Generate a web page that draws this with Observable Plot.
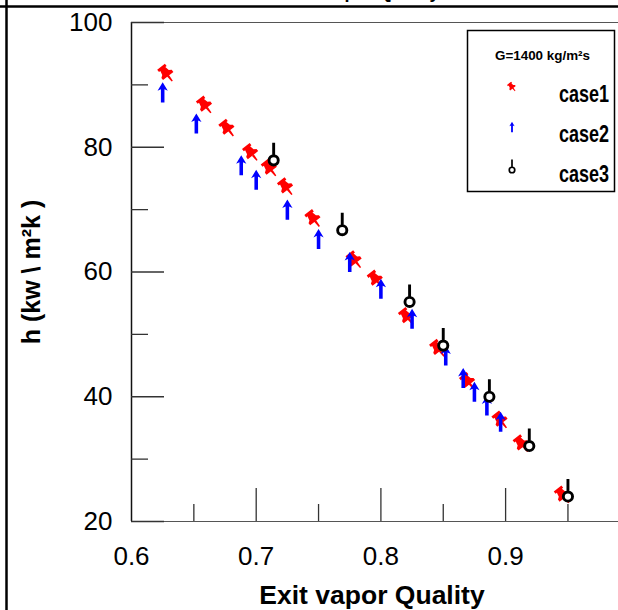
<!DOCTYPE html>
<html><head><meta charset="utf-8">
<script src="https://cdn.jsdelivr.net/npm/d3@7"></script>
<script src="https://cdn.jsdelivr.net/npm/@observablehq/plot@0.6"></script>
<style>
body{margin:0;background:#fff}
#chart{position:relative;width:618px;height:610px;overflow:hidden}
</style>
</head><body><div id="chart"></div>
<script>
// ---- data ----
const case1Quality = [0.628, 0.659, 0.677, 0.696, 0.711, 0.724, 0.746, 0.779, 0.796, 0.821, 0.846, 0.870, 0.896, 0.913, 0.946];
const case1H       = [91.8, 86.7, 83.0, 79.1, 76.6, 73.6, 68.5, 61.9, 58.8, 52.8, 47.7, 42.4, 36.2, 32.4, 24.2];
const case2Quality = [0.625, 0.652, 0.688, 0.700, 0.725, 0.750, 0.775, 0.800, 0.825, 0.852, 0.866, 0.875, 0.885, 0.896];
const case2H       = [88.8, 83.8, 77.1, 74.8, 70.0, 65.3, 61.6, 57.3, 52.5, 46.6, 43.0, 40.8, 38.6, 36.0];
const case3Quality = [0.714, 0.769, 0.823, 0.850, 0.887, 0.919, 0.950];
const case3H       = [77.9, 66.7, 55.2, 48.2, 40.0, 32.1, 24.0];
const seriesNames  = ["case1", "case2", "case3"];
const xTickLabels  = [0.6, 0.7, 0.8, 0.9];
const xMinorTicks  = [0.65, 0.75, 0.85, 0.95];
const yTickLabels  = [20, 40, 60, 80, 100];
const yMinorTicks  = [30, 50, 70, 90];
const legendTitle  = "G=1400 kg/m\u00B2s";
const xTitle = "Exit vapor Quality";
const yTitle = "h (kw \\ m\u00B2k )";

const toRows = (xs, ys) => xs.map((q, i) => ({q, h: ys[i]}));
const case1 = toRows(case1Quality, case1H);
const case2 = toRows(case2Quality, case2H);
const case3 = toRows(case3Quality, case3H);

// ---- custom marker shapes (d3 symbol types) ----
function polyPath(ctx, pts, tf) {
  pts.forEach(([x, y], i) => { const [X, Y] = tf(x, y); i ? ctx.lineTo(X, Y) : ctx.moveTo(X, Y); });
  ctx.closePath();
}
const pinSymbol = {
  draw(ctx, size) {
    const s = Math.sqrt(size / Math.PI) / 7;
    const a = -38 * Math.PI / 180, c = Math.cos(a), sn = Math.sin(a);
    const tf = (x, y) => [(x * c - y * sn) * s, (x * sn + y * c) * s];
    polyPath(ctx, [[-4,-7.2],[4,-7.2],[4,-4.8],[2.6,-4.8],[3.4,-1.2],[5.4,0.2],[5.4,2.4],[-5.4,2.4],[-5.4,0.2],[-3.4,-1.2],[-2.6,-4.8],[-4,-4.8]], tf);
    polyPath(ctx, [[-1,2.4],[1,2.4],[0.6,7.8],[-0.6,7.8]], tf);
  }
};
const arrowSymbol = {
  draw(ctx, size) {
    const s = Math.sqrt(size / Math.PI) / 7;
    const tf = (x, y) => [x * s, y * s];
    polyPath(ctx, [[0,-9],[4.6,-1.4],[1.6,-2.8],[1.6,9],[-1.6,9],[-1.6,-2.8],[-4.6,-1.4]], tf);
  }
};
const lollipopSymbol = {
  draw(ctx, size) {
    const s = Math.sqrt(size / Math.PI) / 7;
    const R = 4.6 * s;
    ctx.moveTo(R, 0);
    ctx.arc(0, 0, R, 0, 2 * Math.PI);
    ctx.closePath();
    ctx.moveTo(0, -R);
    ctx.lineTo(0, -17.5 * s);
  }
};

const W = 618, H = 610, ML = 131, MT = 22, MB = 89, MR = 0;
const pxPerUnitX = 1247; // pixels per unit of quality in the reference
const xMax = 0.6 + (W - ML - MR) / pxPerUnitX;
const frameW = W - ML - MR, frameH = H - MT - MB;
const tickColor = "#333";
const fmt1 = d3.format(".1f");

const plot = Plot.plot({
  width: W, height: H,
  marginLeft: ML, marginRight: MR, marginTop: MT, marginBottom: MB,
  style: {fontFamily: "'Liberation Sans', Arial, sans-serif", fontSize: "26px", background: "white", color: "black", overflow: "visible"},
  x: {domain: [0.6, xMax], ticks: xTickLabels, tickFormat: fmt1, label: null},
  y: {domain: [20, 100], ticks: yTickLabels, label: null},
  marks: [
    Plot.axisX(xTickLabels, {tickSize: 0, tickPadding: 25, fontSize: 26, tickFormat: fmt1, label: null}),
    Plot.axisY(yTickLabels, {tickSize: 0, tickPadding: 19, fontSize: 26, label: null}),
    Plot.ruleY([100], {stroke: "#555", strokeWidth: 1}),
    Plot.ruleY([20], {stroke: "#555", strokeWidth: 1.2}),
    Plot.ruleX([0.6], {stroke: "#111", strokeWidth: 1.5}),
    Plot.tickY(yTickLabels, {stroke: tickColor, strokeWidth: 1.3, insetRight: frameW - 33}),
    Plot.tickY(yMinorTicks, {stroke: tickColor, strokeWidth: 1.3, insetRight: frameW - 17}),
    Plot.tickX(xTickLabels.slice(1), {stroke: tickColor, strokeWidth: 1.3, insetTop: frameH - 33}),
    Plot.tickX(xMinorTicks, {stroke: tickColor, strokeWidth: 1.3, insetTop: frameH - 17}),
    Plot.dot(case1, {x: "q", y: "h", symbol: pinSymbol, r: 8.5, fill: "#ff0000", stroke: "none"}),
    Plot.dot(case2, {x: "q", y: "h", symbol: arrowSymbol, r: 7.8, fill: "#0000ff", stroke: "none"}),
    Plot.dot(case3, {x: "q", y: "h", symbol: lollipopSymbol, r: 7, fill: "white", stroke: "black", strokeWidth: 2.9}),
    Plot.text([xTitle], {frameAnchor: "bottom", textAnchor: "middle", dy: 74, dx: -3, fontSize: 26.5, fontWeight: "bold", lineAnchor: "middle"}),
    Plot.text([yTitle], {frameAnchor: "left", textAnchor: "middle", dx: -100, rotate: -90, fontSize: 25, fontWeight: "bold", lineAnchor: "middle"}),
    Plot.text([xTitle], {frameAnchor: "top", textAnchor: "middle", dx: -12, dy: -30, fontSize: 18, fontWeight: "bold", lineAnchor: "middle"})
  ]
});
document.getElementById("chart").appendChild(plot);

// ---- outer frame lines and legend ----
const svg = d3.select(plot);
svg.append("line").attr("x1", 0).attr("x2", W).attr("y1", 6.5).attr("y2", 6.5).attr("stroke", "black").attr("stroke-width", 2.5);
svg.append("line").attr("x1", 6.5).attr("x2", 6.5).attr("y1", 0).attr("y2", H).attr("stroke", "black").attr("stroke-width", 2.5);

const lg = svg.append("g").attr("font-family", "'Liberation Sans', Arial, sans-serif")
  .attr("font-weight", "bold").attr("text-anchor", "start");
lg.append("rect").attr("x", 467.5).attr("y", 30.5).attr("width", 147).attr("height", 161)
  .attr("fill", "white").attr("stroke", "black").attr("stroke-width", 1.5);
lg.append("text").attr("x", 495).attr("y", 60).attr("font-size", 13)
  .attr("textLength", 95).attr("lengthAdjust", "spacingAndGlyphs").text(legendTitle);
const legendSyms = [
  {sym: pinSymbol, fill: "#ff0000", stroke: "none", sw: 0, size: Math.PI * 4.6 * 4.6},
  {sym: arrowSymbol, fill: "#0000ff", stroke: "none", sw: 0, size: Math.PI * 4 * 4},
  {sym: lollipopSymbol, fill: "white", stroke: "black", sw: 1.7, size: Math.PI * 4.2 * 4.2}
];
seriesNames.forEach((name, i) => {
  const cy = 87 + i * 40;
  const L = legendSyms[i];
  lg.append("path").attr("transform", `translate(512,${cy + (i === 2 ? 3 : 0)})`)
    .attr("d", d3.symbol(L.sym, L.size)())
    .attr("fill", L.fill).attr("stroke", L.stroke).attr("stroke-width", L.sw);
  lg.append("text").attr("transform", `translate(559,${102 + i * 40}) scale(0.75,1)`)
    .attr("font-size", 24).text(name);
});
</script>
</body></html>
